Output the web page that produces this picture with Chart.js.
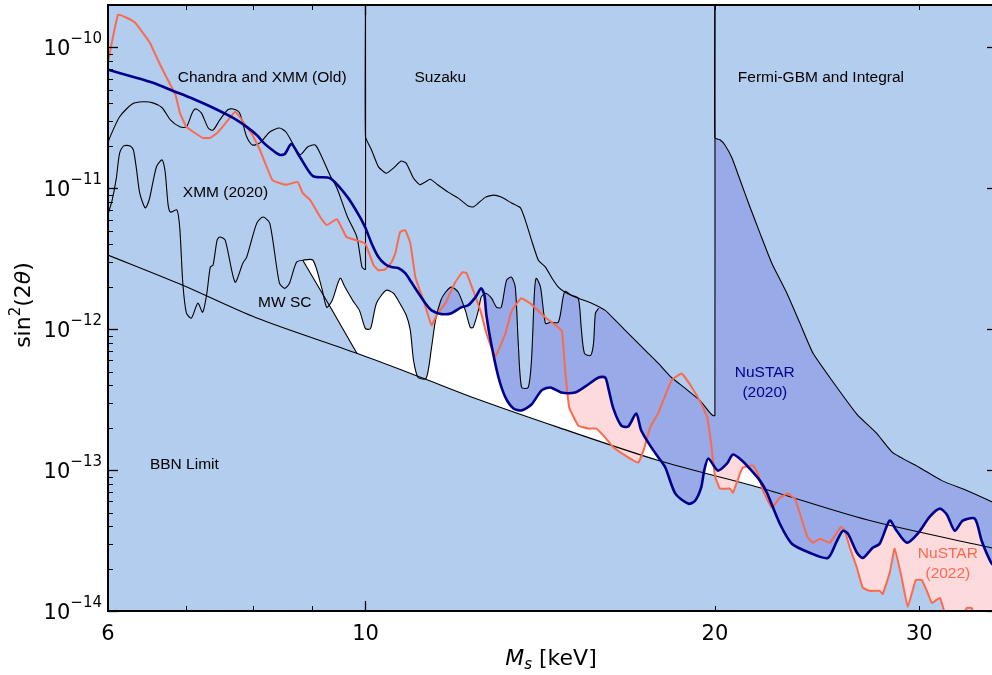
<!DOCTYPE html>
<html>
<head>
<meta charset="utf-8">
<script src="https://cdn.jsdelivr.net/npm/chart.js@4.4.0/dist/chart.umd.min.js"></script>
<style>
  html, body { margin: 0; padding: 0; background: #fff; overflow: hidden; }
  #wrap { width: 992px; height: 675px; overflow: hidden; }
  canvas { display: block; }
</style>
</head>
<body>
<div id="wrap"><canvas id="chart" width="997" height="675"></canvas></div>
<script>
// sterile neutrino limits: M_s [keV] vs sin^2(2 theta)

// Chandra and XMM (Old) – ends with vertical jump at 10 keV
const chandraMass = [6.00, 6.02, 6.14, 6.30, 6.43, 6.56, 6.68, 6.79, 6.92, 7.01, 7.09, 7.14, 7.22, 7.32, 7.39, 7.49, 7.61, 7.69, 7.79, 7.90, 7.99, 8.11, 8.27, 8.43, 8.54, 8.65, 8.78, 8.92, 9.05, 9.17, 9.32, 9.45, 9.65, 9.83, 9.93, 9.98, 10.0, 10.0];
const chandraMix = [2.1e-11, 2.28e-11, 3.22e-11, 3.98e-11, 4.11e-11, 4.04e-11, 3.73e-11, 3.06e-11, 2.73e-11, 2.73e-11, 3.43e-11, 3.66e-11, 3.43e-11, 2.68e-11, 2.59e-11, 3.06e-11, 3.61e-11, 3.66e-11, 3.43e-11, 2.32e-11, 2.03e-11, 2.10e-11, 2.51e-11, 2.68e-11, 2.51e-11, 2.10e-11, 1.73e-11, 1.97e-11, 2.03e-11, 1.67e-11, 1.24e-11, 1.00e-11, 6.25e-12, 4.51e-12, 2.76e-12, 2.66e-12, 2.66e-12, 2e-10];

// Suzaku – 10 to 20 keV
const suzakuMass = [10.0, 10.0, 10.12, 10.26, 10.42, 10.57, 10.73, 10.84, 11.00, 11.14, 11.26, 11.37, 11.54, 11.78, 12.02, 12.26, 12.38, 12.51, 12.69, 12.89, 13.09, 13.36, 13.60, 13.73, 13.90, 14.09, 14.29, 14.46, 14.66, 14.86, 15.25, 15.66, 16.09, 16.41, 16.74, 17.08, 17.42, 17.88, 18.35, 18.86, 19.41, 19.80, 19.92, 20.0, 20.0];
const suzakuMix = [2e-10, 2.32e-11, 1.87e-11, 1.42e-11, 1.28e-11, 1.39e-11, 1.56e-11, 1.51e-11, 1.18e-11, 1.06e-11, 1.11e-11, 1.16e-11, 1.06e-11, 9.40e-12, 8.52e-12, 7.48e-12, 7.37e-12, 7.86e-12, 8.66e-12, 8.95e-12, 8.66e-12, 7.86e-12, 7.26e-12, 5.95e-12, 4.29e-12, 3.09e-12, 2.76e-12, 2.34e-12, 1.99e-12, 1.83e-12, 1.66e-12, 1.53e-12, 1.36e-12, 1.16e-12, 9.82e-13, 8.34e-13, 7.08e-13, 5.72e-13, 4.54e-13, 3.80e-13, 3.12e-13, 2.56e-13, 2.44e-13, 2.44e-13, 2e-10];

// Fermi-GBM and Integral – from 20 keV
const fermiMass = [20.0, 20.0, 20.2, 20.4, 20.69, 21.02, 21.44, 21.87, 22.39, 23.07, 23.68, 24.30, 25.29, 26.50, 27.57, 28.46, 30.03, 31.37, 32.96, 34.6, 35.0];
const fermiMix = [2e-10, 2.28e-11, 2.21e-11, 2.03e-11, 1.64e-11, 1.15e-11, 7.37e-12, 4.81e-12, 2.94e-12, 1.80e-12, 1.10e-12, 6.74e-13, 4.2e-13, 2.5e-13, 1.82e-13, 1.33e-13, 1.04e-13, 8.42e-14, 7.17e-14, 5.99e-14, 5.7e-14];

// XMM (2020) wiggly limit
const xmmMass = [6.00, 6.05, 6.10, 6.14, 6.19, 6.27, 6.31, 6.35, 6.39, 6.46, 6.51, 6.56, 6.61, 6.68, 6.72, 6.76, 6.79, 6.88, 6.92, 6.96, 7.01, 7.08, 7.17, 7.24, 7.30, 7.35, 7.39, 7.45, 7.49, 7.57, 7.72, 7.84, 7.90, 8.06, 8.16, 8.27, 8.43, 8.52, 8.60, 8.72, 8.83, 9.01, 9.17, 9.26, 9.36, 9.51, 9.60, 9.75, 9.88, 10.00, 10.10, 10.22, 10.42, 10.57, 10.67, 10.84, 10.93, 11.00, 11.10, 11.28, 11.40, 11.49, 11.61, 11.72, 11.86, 12.02, 12.19, 12.31, 12.38, 12.51, 12.58, 12.69, 12.84, 12.97, 13.09, 13.23, 13.36, 13.46, 13.54, 13.63, 13.81, 13.90, 13.98, 14.03, 14.15, 14.29, 14.43, 14.66, 14.80, 14.86, 15.04, 15.25, 15.34, 15.44, 15.63, 15.72, 15.78, 15.88];
const xmmMix = [6.56e-12, 8.26e-12, 1.18e-11, 1.78e-11, 2.00e-11, 2.00e-11, 1.87e-11, 1.35e-11, 9.24e-12, 7.26e-12, 8.26e-12, 1.11e-11, 1.44e-11, 1.59e-11, 1.31e-11, 7.62e-12, 6.78e-12, 7.02e-12, 5.05e-12, 2.12e-12, 1.30e-12, 1.20e-12, 1.53e-12, 1.32e-12, 1.80e-12, 2.76e-12, 2.85e-12, 4.29e-12, 4.51e-12, 4.29e-12, 2.16e-12, 2.94e-12, 3.25e-12, 5.66e-12, 6.25e-12, 5.66e-12, 2.12e-12, 1.95e-12, 2.12e-12, 2.99e-12, 3.09e-12, 3.09e-12, 1.95e-12, 1.43e-12, 1.60e-12, 2.30e-12, 1.99e-12, 1.60e-12, 1.36e-12, 1.01e-12, 1.01e-12, 1.53e-12, 1.89e-12, 1.80e-12, 1.60e-12, 1.26e-12, 9.82e-13, 6.01e-13, 4.54e-13, 4.48e-13, 7.44e-13, 1.16e-12, 1.60e-12, 1.83e-12, 1.99e-12, 1.83e-12, 1.36e-12, 1.03e-12, 1.03e-12, 1.36e-12, 1.69e-12, 1.80e-12, 1.66e-12, 1.43e-12, 1.43e-12, 2.23e-12, 2.34e-12, 1.99e-12, 7.94e-13, 3.86e-13, 3.86e-13, 6.01e-13, 1.80e-12, 2.30e-12, 1.99e-12, 1.10e-12, 1.12e-12, 1.12e-12, 1.69e-12, 1.86e-12, 1.74e-12, 1.66e-12, 1.03e-12, 6.74e-13, 6.52e-13, 7.94e-13, 1.30e-12, 1.41e-12];

// MW SC edge (left side of the allowed region)
const mwscMass = [8.83, 9.32, 9.83];
const mwscMix = [3.09e-12, 1.45e-12, 6.74e-13];

// BBN limit
const bbnMass = [6.0, 6.96, 8.06, 9.83, 11.28, 12.51, 14.66, 17.88, 21.87, 27.04, 34.6, 35.0];
const bbnMix = [3.36e-12, 2.05e-12, 1.20e-12, 6.74e-13, 4.40e-13, 3.17e-13, 2.01e-13, 1.17e-13, 7.50e-14, 4.44e-14, 2.81e-14, 2.75e-14];

// NuSTAR (2020)
const nu20Mass = [6.00, 6.30, 6.56, 6.82, 7.10, 7.39, 7.69, 7.90, 8.06, 8.16, 8.27, 8.43, 8.52, 8.63, 8.78, 9.01, 9.32, 9.65, 9.88, 10.00, 10.12, 10.26, 10.40, 10.53, 10.67, 10.82, 10.95, 11.11, 11.26, 11.40, 11.63, 11.86, 12.09, 12.26, 12.44, 12.58, 12.66, 12.71, 12.84, 13.02, 13.20, 13.41, 13.62, 13.90, 14.18, 14.43, 14.74, 15.16, 15.47, 15.88, 16.09, 16.19, 16.35, 16.61, 16.84, 17.11, 17.28, 17.63, 17.88, 18.13, 18.49, 18.98, 19.23, 19.46, 19.58, 19.74, 20.12, 20.48, 20.73, 21.10, 21.44, 21.87, 22.17, 22.75, 23.30, 24.14, 25.02, 25.48, 25.78, 26.04, 26.51, 26.82, 27.35, 27.73, 28.29, 28.68, 29.27, 29.91, 30.63, 31.25, 31.69, 32.19, 32.70, 33.49, 33.95, 34.6, 35.0];
const nu20Mix = [6.94e-11, 6.19e-11, 5.61e-11, 4.93e-11, 4.32e-11, 3.73e-11, 3.16e-11, 2.73e-11, 2.39e-11, 2.13e-11, 1.93e-11, 1.73e-11, 1.75e-11, 2.06e-11, 1.67e-11, 1.22e-11, 1.18e-11, 8.66e-12, 6.35e-12, 5.22e-12, 4.08e-12, 3.25e-12, 2.89e-12, 2.76e-12, 2.72e-12, 2.50e-12, 2.16e-12, 1.80e-12, 1.53e-12, 1.36e-12, 1.28e-12, 1.30e-12, 1.43e-12, 1.48e-12, 1.69e-12, 1.95e-12, 1.74e-12, 1.26e-12, 7.68e-13, 4.54e-13, 3.28e-13, 2.74e-13, 2.65e-13, 2.92e-13, 3.68e-13, 3.86e-13, 3.56e-13, 3.56e-13, 3.93e-13, 4.54e-13, 4.54e-13, 3.80e-13, 2.74e-13, 2.07e-13, 2.04e-13, 2.52e-13, 1.91e-13, 1.45e-13, 1.23e-13, 1.04e-13, 6.81e-14, 5.77e-14, 6.06e-14, 7.50e-14, 9.92e-14, 1.21e-13, 9.92e-14, 1.11e-13, 1.29e-13, 1.17e-13, 1.02e-13, 8.42e-14, 6.92e-14, 4.16e-14, 3.00e-14, 2.59e-14, 2.38e-14, 3.15e-14, 3.71e-14, 3.54e-14, 2.59e-14, 2.38e-14, 2.81e-14, 3.00e-14, 4.38e-14, 3.71e-14, 3.05e-14, 3.54e-14, 4.67e-14, 5.33e-14, 4.82e-14, 3.71e-14, 4.38e-14, 4.52e-14, 3.15e-14, 2.20e-14, 2.0e-14];

// NuSTAR (2022)
const nu22Mass = [6.00, 6.12, 6.22, 6.33, 6.43, 6.52, 6.61, 6.70, 6.79, 6.86, 6.92, 7.01, 7.13, 7.24, 7.35, 7.45, 7.53, 7.64, 7.72, 7.79, 7.90, 7.99, 8.11, 8.22, 8.31, 8.43, 8.55, 8.74, 8.83, 8.96, 9.14, 9.26, 9.45, 9.63, 9.88, 10.00, 10.16, 10.26, 10.40, 10.53, 10.61, 10.71, 10.82, 10.93, 11.04, 11.22, 11.40, 11.54, 11.72, 11.95, 12.12, 12.22, 12.38, 12.58, 12.71, 12.94, 13.20, 13.36, 13.62, 13.90, 14.29, 14.66, 14.77, 14.86, 14.98, 15.25, 15.56, 15.81, 16.09, 16.35, 16.84, 17.18, 17.38, 17.59, 17.88, 18.35, 18.72, 19.11, 19.50, 19.70, 19.86, 20.00, 20.20, 20.61, 20.73, 21.02, 21.14, 21.57, 21.78, 22.00, 22.39, 22.75, 23.11, 23.44, 23.68, 24.02, 24.30, 24.63, 25.12, 25.68, 25.88, 26.14, 26.51, 26.82, 27.19, 27.73, 27.90, 28.29, 28.57, 28.97, 29.32, 29.79, 30.15, 30.45, 30.76, 31.25, 31.56, 32.00, 32.51, 32.96, 33.29, 33.56, 34.16, 34.6, 35.0];
const nu22Mix = [7.91e-11, 1.71e-10, 1.63e-10, 1.50e-10, 1.27e-10, 1.08e-10, 8.45e-11, 6.72e-11, 5.43e-11, 4.61e-11, 3.43e-11, 2.73e-11, 2.47e-11, 2.28e-11, 2.28e-11, 2.47e-11, 2.73e-11, 3.16e-11, 3.49e-11, 3.22e-11, 2.73e-11, 2.39e-11, 1.87e-11, 1.42e-11, 1.15e-11, 1.09e-11, 1.06e-11, 1.11e-11, 9.24e-12, 8.26e-12, 6.25e-12, 5.48e-12, 6.05e-12, 4.51e-12, 4.22e-12, 4.02e-12, 2.85e-12, 2.62e-12, 2.66e-12, 2.99e-12, 3.46e-12, 4.89e-12, 5.05e-12, 4.08e-12, 2.34e-12, 1.60e-12, 1.07e-12, 1.30e-12, 1.53e-12, 2.16e-12, 2.54e-12, 2.50e-12, 1.89e-12, 1.30e-12, 9.36e-13, 6.41e-13, 9.36e-13, 1.34e-12, 1.66e-12, 1.50e-12, 1.21e-12, 1.03e-12, 9.66e-13, 5.10e-13, 2.78e-13, 2.07e-13, 1.97e-13, 1.97e-13, 1.70e-13, 1.45e-13, 1.23e-13, 1.13e-13, 1.42e-13, 2.01e-13, 2.56e-13, 4.33e-13, 4.85e-13, 3.86e-13, 2.88e-13, 2.36e-13, 1.49e-13, 9.14e-14, 7.39e-14, 7.39e-14, 6.92e-14, 9.44e-14, 1.04e-13, 1.08e-13, 9.44e-14, 7.17e-14, 5.41e-14, 6.37e-14, 6.81e-14, 6.26e-14, 4.90e-14, 3.37e-14, 3.05e-14, 3.26e-14, 3.05e-14, 3.96e-14, 3.71e-14, 2.81e-14, 2.02e-14, 1.46e-14, 1.39e-14, 1.39e-14, 1.32e-14, 1.87e-14, 2.77e-14, 1.72e-14, 1.07e-14, 1.66e-14, 1.66e-14, 1.39e-14, 1.14e-14, 1.24e-14, 9.7e-15, 7.8e-15, 8.5e-15, 1.05e-14, 1.05e-14, 7.8e-15, 7.2e-15, 7.2e-15, 7.2e-15];

// ticks
const xTickVals = [6, 10, 20, 30];
const xTickText = ['6', '10', '20', '30'];
const xMajorVals = [10];
const xMinorVals = [6, 7, 8, 9, 20, 30];
const yExponents = [-10, -11, -12, -13, -14];

// text labels placed in data coordinates
const noteText = ['Chandra and XMM (Old)', 'Suzaku', 'Fermi-GBM and Integral', 'XMM (2020)', 'MW SC', 'BBN Limit'];
const noteMass = [6.89, 11.02, 20.93, 6.96, 8.08, 6.52];
const noteMix = [6.09e-11, 6.09e-11, 6.09e-11, 9.24e-12, 1.55e-12, 1.09e-13];

const LIGHT = '#b3cdee', MED = '#99aae8', PINK = '#fddadb';
const ORANGE = '#fb6a4d', NAVY = '#00008b', NONE = 'rgba(0,0,0,0)';
const SMOOTH = 0.25;

function pts(xs, ys) { return xs.map((x, i) => ({ x: x, y: ys[i] })); }

// white allowed region: MW SC edge, then BBN line
const allowedEdge = pts(mwscMass, mwscMix).concat(pts(bbnMass, bbnMix).filter(p => p.x > 9.83));

function blackLine(label, data, fill, tension) {
  return { label, data, borderColor: '#000', borderWidth: 1.1, fill: fill ? 'end' : false, backgroundColor: LIGHT, tension: tension };
}

const datasets = [
  // strokes on top
  { label: 'NuSTAR (2020)', data: pts(nu20Mass, nu20Mix), borderColor: NAVY, borderWidth: 2.6, fill: false, borderJoinStyle: 'round', tension: SMOOTH },
  { label: 'NuSTAR (2022)', data: pts(nu22Mass, nu22Mix), borderColor: ORANGE, borderWidth: 2, fill: false, borderJoinStyle: 'round', tension: 0.1 },
  blackLine('XMM (2020)', pts(xmmMass, xmmMix), true, SMOOTH),
  blackLine('Chandra and XMM (Old)', pts(chandraMass, chandraMix), true, SMOOTH),
  blackLine('Suzaku', pts(suzakuMass, suzakuMix), true, 0.15),
  blackLine('Fermi-GBM and Integral', pts(fermiMass, fermiMix), true, 0.15),
  blackLine('MW SC', pts(mwscMass, mwscMix), false, 0),
  blackLine('BBN Limit', pts(bbnMass, bbnMix), false, 0.3),
  // fills underneath
  { label: 'nu20 fill', data: pts(nu20Mass, nu20Mix), borderColor: NONE, borderWidth: 0, fill: 'end', backgroundColor: MED, tension: SMOOTH },
  { label: 'nu22 fill', data: pts(nu22Mass, nu22Mix), borderColor: NONE, borderWidth: 0, fill: 'end', backgroundColor: PINK, tension: 0.1 },
  { label: 'allowed', data: allowedEdge, borderColor: NONE, borderWidth: 0, fill: 'end', backgroundColor: '#ffffff', tension: 0 }
];

const bgPlugin = {
  id: 'bg',
  beforeDraw(chart) {
    const { ctx, chartArea: a } = chart;
    ctx.save();
    ctx.fillStyle = '#fff';
    ctx.fillRect(0, 0, chart.width, chart.height);
    ctx.fillStyle = LIGHT;
    ctx.fillRect(a.left, a.top, a.right - a.left, a.bottom - a.top);
    ctx.restore();
  }
};

const axesPlugin = {
  id: 'axesDeco',
  afterDraw(chart) {
    const { ctx, chartArea: a } = chart;
    const xs = chart.scales.x, ys = chart.scales.y;
    ctx.save();
    ctx.strokeStyle = '#000';

    function seg(x1, y1, x2, y2, w) {
      ctx.lineWidth = w;
      ctx.beginPath(); ctx.moveTo(x1, y1); ctx.lineTo(x2, y2); ctx.stroke();
    }
    // x ticks, inward, top and bottom
    xMajorVals.forEach(v => {
      const p = Math.round(xs.getPixelForValue(v)) + 0.5;
      seg(p, a.bottom, p, a.bottom - 10, 1.3);
      seg(p, a.top, p, a.top + 10, 1.3);
    });
    xMinorVals.forEach(v => {
      const p = Math.round(xs.getPixelForValue(v)) + 0.5;
      seg(p, a.bottom, p, a.bottom - 5, 1);
      seg(p, a.top, p, a.top + 5, 1);
    });
    // y ticks, inward, left and right
    yExponents.forEach(e => {
      const p = Math.round(ys.getPixelForValue(Math.pow(10, e))) + 0.5;
      seg(a.left, p, a.left + 10, p, 1.3);
      seg(a.right, p, a.right - 10, p, 1.3);
      for (let m = 2; m <= 9; m++) {
        const v = m * Math.pow(10, e);
        if (v >= ys.max) continue;
        const q = Math.round(ys.getPixelForValue(v)) + 0.5;
        seg(a.left, q, a.left + 5, q, 1);
        seg(a.right, q, a.right - 5, q, 1);
      }
    });
    // frame
    ctx.lineWidth = 2;
    ctx.strokeRect(a.left, a.top, a.right - a.left, a.bottom - a.top);

    ctx.fillStyle = '#000';
    const base = '21px "DejaVu Sans"', sup = '15px "DejaVu Sans"';
    // y tick labels 10^e
    ctx.textBaseline = 'alphabetic';
    ctx.textAlign = 'left';
    yExponents.forEach(e => {
      const p = ys.getPixelForValue(Math.pow(10, e));
      const expo = '\u2212' + Math.abs(e);
      ctx.font = base; const w1 = ctx.measureText('10').width;
      ctx.font = sup; const w2 = ctx.measureText(expo).width;
      const x0 = a.left - 6 - w1 - w2;
      ctx.font = base; ctx.fillText('10', x0, p + 8);
      ctx.font = sup; ctx.fillText(expo, x0 + w1, p - 4);
    });
    // x tick labels
    ctx.font = base;
    ctx.textAlign = 'center';
    xTickVals.forEach((v, i) => {
      ctx.fillText(xTickText[i], xs.getPixelForValue(v), a.bottom + 29);
    });

    // x title: M_s [keV]
    const tf = '22px "DejaVu Sans"', tfi = 'italic 22px "DejaVu Sans"', tfs = 'italic 15px "DejaVu Sans"';
    ctx.textAlign = 'left';
    ctx.font = tfi; const wm = ctx.measureText('M').width;
    ctx.font = tfs; const ws = ctx.measureText('s').width;
    ctx.font = tf; const wk = ctx.measureText(' [keV]').width;
    let xt = 551 - (wm + ws + wk) / 2;
    const yb = 665;
    ctx.font = tfi; ctx.fillText('M', xt, yb); xt += wm;
    ctx.font = tfs; ctx.fillText('s', xt, yb + 4); xt += ws;
    ctx.font = tf; ctx.fillText(' [keV]', xt, yb);

    // y title: sin^2(2θ)
    ctx.save();
    ctx.translate(30, 305);
    ctx.rotate(-Math.PI / 2);
    const parts = [['sin', tf, 0], ['2', '15px "DejaVu Sans"', -10], ['(2', tf, 0], ['\u03b8', tfi, 0], [')', tf, 0]];
    let tw = 0;
    parts.forEach(pp => { ctx.font = pp[1]; tw += ctx.measureText(pp[0]).width; });
    let tx = -tw / 2;
    parts.forEach(pp => { ctx.font = pp[1]; ctx.fillText(pp[0], tx, 0 + pp[2]); tx += ctx.measureText(pp[0]).width; });
    ctx.restore();

    // annotations
    ctx.font = '15.5px "Liberation Sans", Arial, sans-serif';
    ctx.textBaseline = 'middle';
    ctx.textAlign = 'left';
    noteText.forEach((t, i) => {
      ctx.fillText(t, xs.getPixelForValue(noteMass[i]), ys.getPixelForValue(noteMix[i]));
    });
    ctx.textAlign = 'center';
    const n20x = xs.getPixelForValue(22.08), n20y = ys.getPixelForValue(4.18e-13);
    ctx.fillStyle = NAVY;
    ctx.fillText('NuSTAR', n20x, n20y - 10);
    ctx.fillText('(2020)', n20x, n20y + 10);
    const n22x = xs.getPixelForValue(31.75), n22y = ys.getPixelForValue(2.16e-14);
    ctx.fillStyle = ORANGE;
    ctx.fillText('NuSTAR', n22x, n22y - 10);
    ctx.fillText('(2022)', n22x, n22y + 10);
    ctx.restore();
  }
};

new Chart(document.getElementById('chart'), {
  type: 'line',
  data: { datasets: datasets },
  options: {
    responsive: false,
    animation: false,
    events: [],
    layout: { padding: { top: 5, left: 0, right: 0, bottom: 0 } },
    elements: { point: { radius: 0 }, line: { tension: 0 } },
    scales: {
      x: {
        type: 'logarithmic', min: 6, max: 35,
        ticks: { display: false }, grid: { display: false }, border: { display: false },
        afterFit(s) { s.height = 64; }
      },
      y: {
        type: 'logarithmic', min: 1e-14, max: 2e-10,
        ticks: { display: false }, grid: { display: false }, border: { display: false },
        afterFit(s) { s.width = 108; }
      }
    },
    plugins: {
      legend: { display: false },
      tooltip: { enabled: false },
      filler: { drawTime: 'beforeDatasetsDraw', propagate: false }
    }
  },
  plugins: [bgPlugin, axesPlugin]
});
</script>
</body>
</html>
